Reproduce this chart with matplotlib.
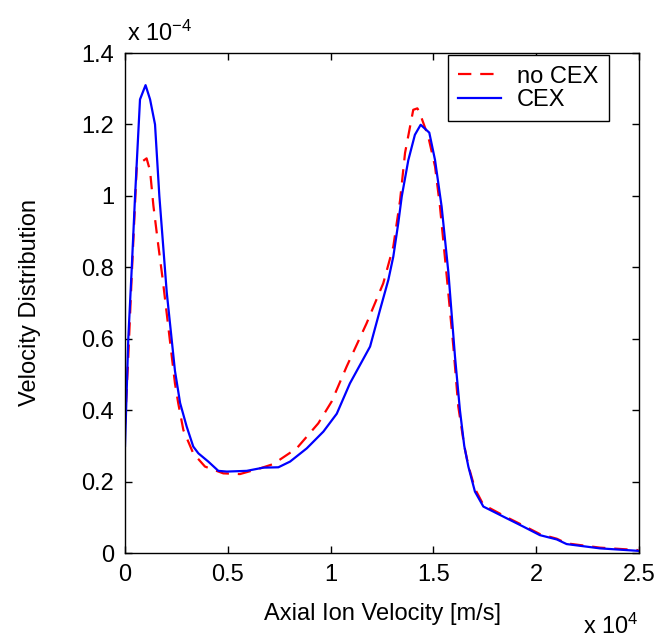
import matplotlib
matplotlib.use("Agg")
import matplotlib.pyplot as plt

plt.rcParams['font.family'] = ['Liberation Sans', 'DejaVu Sans']
plt.rcParams['mathtext.default'] = 'regular'

# Data (x in units of 1e4 m/s, y in units of 1e-4)
cex_x = [0, 0.016, 0.033, 0.049, 0.073, 0.100, 0.122, 0.146, 0.167, 0.203,
         0.243, 0.268, 0.300, 0.332, 0.357, 0.405, 0.454, 0.495, 0.592, 0.673,
         0.746, 0.803, 0.884, 0.965, 1.030, 1.094, 1.192, 1.240, 1.281, 1.305,
         1.329, 1.346, 1.378, 1.410, 1.438, 1.480, 1.508, 1.540, 1.573, 1.605,
         1.629, 1.650, 1.670, 1.702, 1.743, 1.857, 1.937, 2.018, 2.100, 2.148,
         2.310, 2.497]
cex_y = [0.30, 0.60, 0.80, 1.00, 1.27, 1.31, 1.27, 1.20, 1.00, 0.73,
         0.51, 0.42, 0.354, 0.298, 0.279, 0.256, 0.230, 0.228, 0.230, 0.239,
         0.240, 0.256, 0.293, 0.340, 0.390, 0.475, 0.578, 0.680, 0.765, 0.830,
         0.923, 0.998, 1.100, 1.171, 1.199, 1.177, 1.100, 0.970, 0.785, 0.550,
         0.400, 0.300, 0.242, 0.172, 0.130, 0.097, 0.074, 0.050, 0.038, 0.025,
         0.013, 0.006]

nocex_x = [0, 0.016, 0.033, 0.057, 0.081, 0.105, 0.122, 0.138, 0.162, 0.183,
           0.243, 0.259, 0.284, 0.332, 0.389, 0.478, 0.559, 0.657, 0.721, 0.835,
           0.940, 1.005, 1.078, 1.175, 1.256, 1.305, 1.338, 1.362, 1.402, 1.422,
           1.431, 1.475, 1.508, 1.532, 1.565, 1.597, 1.621, 1.650, 1.670, 1.702,
           1.743, 1.857, 1.937, 2.018, 2.100, 2.148, 2.310, 2.497]
nocex_y = [0.36, 0.55, 0.78, 1.08, 1.095, 1.105, 1.07, 0.973, 0.861, 0.768,
           0.475, 0.419, 0.344, 0.279, 0.242, 0.223, 0.221, 0.237, 0.249, 0.293,
           0.363, 0.424, 0.522, 0.643, 0.755, 0.858, 0.988, 1.120, 1.241, 1.245,
           1.236, 1.166, 1.082, 0.970, 0.774, 0.578, 0.410, 0.300, 0.245, 0.180,
           0.135, 0.100, 0.077, 0.053, 0.040, 0.027, 0.015, 0.008]

xticks = [0, 0.5, 1, 1.5, 2, 2.5]
xticklabels = ['0', '0.5', '1', '1.5', '2', '2.5']
yticks = [0, 0.2, 0.4, 0.6, 0.8, 1.0, 1.2, 1.4]
yticklabels = ['0', '0.2', '0.4', '0.6', '0.8', '1', '1.2', '1.4']

FS = 17
fig = plt.figure(figsize=(6.68, 6.39), dpi=100)
ax = fig.add_axes([125/668, 1-553/639, 514/668, 500/639])

ax.plot(nocex_x, nocex_y, color='#ff0000', lw=1.6, dashes=(6, 4), label='no CEX')
ax.plot(cex_x, cex_y, color='#0000ff', lw=1.6, label='CEX')

ax.set_xlim(0, 2.5)
ax.set_ylim(0, 1.4)
ax.set_xticks(xticks)
ax.set_xticklabels(xticklabels)
ax.set_yticks(yticks)
ax.set_yticklabels(yticklabels)
ax.tick_params(direction='in', length=5, width=1, top=True, right=True,
               labelsize=FS, pad=8, colors='black')
for s in ax.spines.values():
    s.set_linewidth(1.0)
    s.set_color('black')

ax.set_xlabel('Axial Ion Velocity [m/s]', fontsize=FS, labelpad=12)
ax.set_ylabel('Velocity Distribution', fontsize=FS, labelpad=29)

fig.text(127/668, 1-33/639, r'x 10$^{-4}$', fontsize=FS, ha='left', va='center')
fig.text(583/668, 1-626/639, r'x 10$^{4}$', fontsize=FS, ha='left', va='center')

leg = ax.legend(loc='upper right', bbox_to_anchor=(0.942, 0.996), fontsize=FS,
                fancybox=False, edgecolor='black', framealpha=1,
                handlelength=1.8, handletextpad=0.7, labelspacing=0.05,
                borderpad=0.45, borderaxespad=0)
leg.get_frame().set_linewidth(1.0)

fig.savefig('out.png', dpi=100)
